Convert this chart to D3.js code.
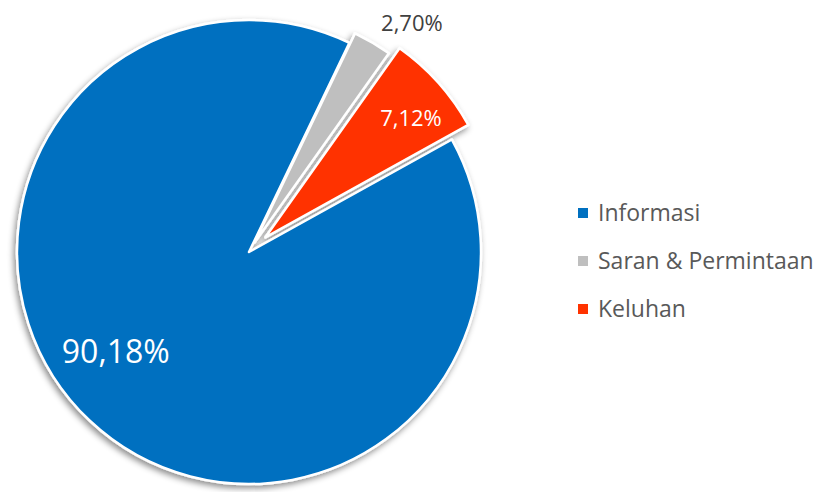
<!DOCTYPE html>
<html>
<head>
<meta charset="utf-8">
<script src="https://cdn.jsdelivr.net/npm/d3@7"></script>
<style>
  html, body { margin: 0; padding: 0; background: #fff; }
  text { font-family: "Open Sans", "Noto Sans", sans-serif; }
</style>
</head>
<body>
<div id="viz"></div>
<script>
// chart data
const categories = ["Informasi", "Saran & Permintaan", "Keluhan"];
const values = [90.18, 2.70, 7.12];
const valueLabels = ["90,18%", "2,70%", "7,12%"];
const colors = ["#0070C0", "#BFBFBF", "#FF3300"];

const width = 820,
    height = 492,
    cx = 249, cy = 252,
    radius = 232,
    startDeg = 61;          // first slice rotated
const explode = [0, 11, 22]; // px pulled out of the pie
const labelInside = [true, false, true];
// label placement (fraction of radius, angle nudge in degrees)
const labelR = [0.716, 1.04, 0.81],
    labelNudge = [10, 0, 2.6],
    labelSize = [32, 22, 22];

window.onload = function main () {

const svg = d3.select("#viz").append("svg")
    .attr("width", width)
    .attr("height", height);

const defs = svg.append("defs");
defs.append("filter")
    .attr("id", "shadow")
    .attr("x", "-20%").attr("y", "-20%")
    .attr("width", "140%").attr("height", "140%")
  .append("feDropShadow")
    .attr("dx", -2).attr("dy", 3)
    .attr("stdDeviation", 3)
    .attr("flood-color", "#000")
    .attr("flood-opacity", 0.45);

const pie = d3.pie()
    .sort(null)
    .value(d => d)
    .startAngle(startDeg * Math.PI / 180)
    .endAngle(startDeg * Math.PI / 180 + 2 * Math.PI);

const arcs = pie(values);
const arc = d3.arc().innerRadius(0).outerRadius(radius);

function offset(d, i) {
    const a = (d.startAngle + d.endAngle) / 2;
    return [Math.sin(a) * explode[i], -Math.cos(a) * explode[i]];
}

const g = svg.append("g")
    .attr("transform", "translate(" + cx + "," + cy + ")");

g.append("g")
    .attr("filter", "url(#shadow)")
  .selectAll("path")
    .data(arcs).enter()
    .append("path")
    .attr("transform", (d, i) => "translate(" + offset(d, i) + ")")
    .attr("d", arc)
    .attr("fill", (d, i) => colors[i])
    .attr("stroke", "#fff")
    .attr("stroke-width", 2.5)
    .attr("stroke-linejoin", "round");

// data labels
function labelPos(d, i) {
    const a = (d.startAngle + d.endAngle) / 2 + labelNudge[i] * Math.PI / 180;
    const r = radius * labelR[i];
    const o = offset(d, i);
    return [Math.sin(a) * r + o[0], -Math.cos(a) * r + o[1]];
}

g.selectAll("text.lbl")
    .data(arcs).enter()
    .append("text")
    .attr("class", "lbl")
    .attr("transform", (d, i) => "translate(" + labelPos(d, i) + ")")
    .attr("text-anchor", (d, i) => labelInside[i] ? "middle" : "start")
    .attr("dx", (d, i) => labelInside[i] ? 0 : 4)
    .attr("dy", (d, i) => labelInside[i] ? "0.36em" : -4)
    .attr("font-size", (d, i) => labelSize[i])
    .attr("fill", (d, i) => labelInside[i] ? "#fff" : "#404040")
    .text((d, i) => valueLabels[i]);

// legend
const legY = d3.scalePoint().domain(categories).range([213, 309]);
const leg = svg.append("g").selectAll("g")
    .data(categories).enter()
    .append("g")
    .attr("transform", d => "translate(578," + legY(d) + ")");

leg.append("rect")
    .attr("x", 0).attr("y", -5)
    .attr("width", 10).attr("height", 10)
    .attr("fill", (d, i) => colors[i]);

leg.append("text")
    .attr("x", 20)
    .attr("dy", "0.36em")
    .attr("font-size", 23)
    .attr("fill", "#595959")
    .text(d => d);

};
</script>
</body>
</html>
